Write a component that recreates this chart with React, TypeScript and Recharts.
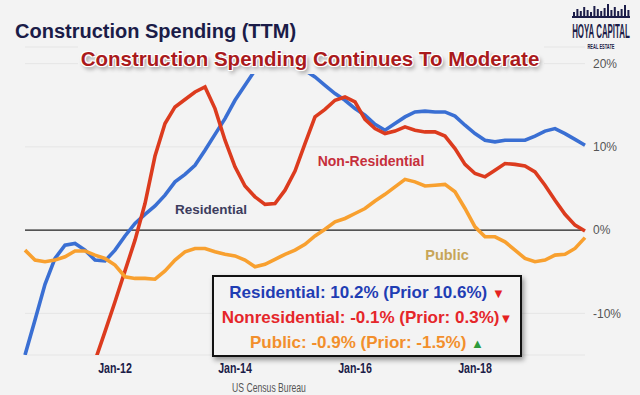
import { CartesianGrid, Line, LineChart, ReferenceLine, XAxis, YAxis } from "recharts";

const BG = "#f3f3f3";
const NAVY = "#1b1c48";

// two-month steps
const months = [
  "Jul-10", "Sep-10", "Nov-10", "Jan-11", "Mar-11", "May-11", "Jul-11", "Sep-11", "Nov-11",
  "Jan-12", "Mar-12", "May-12", "Jul-12", "Sep-12", "Nov-12",
  "Jan-13", "Mar-13", "May-13", "Jul-13", "Sep-13", "Nov-13",
  "Jan-14", "Mar-14", "May-14", "Jul-14", "Sep-14", "Nov-14",
  "Jan-15", "Mar-15", "May-15", "Jul-15", "Sep-15", "Nov-15",
  "Jan-16", "Mar-16", "May-16", "Jul-16", "Sep-16", "Nov-16",
  "Jan-17", "Mar-17", "May-17", "Jul-17", "Sep-17", "Nov-17",
  "Jan-18", "Mar-18", "May-18", "Jul-18", "Sep-18", "Nov-18",
  "Jan-19", "Mar-19", "May-19", "Jul-19", "Sep-19", "Nov-19",
];

const tickLabels = ["Jan-12", "Jan-14", "Jan-16", "Jan-18"];
const yTicks = [-10, 0, 10, 20];

const residential = [
  -15.0, -10.8, -6.5, -3.4, -1.8, -1.6, -2.4, -3.6, -3.7, -2.4,
  -0.7, 0.8, 1.9, 2.9, 4.2, 5.8, 6.7, 7.8, 9.6, 11.5,
  13.4, 15.6, 17.4, 19.2, 20.6, 21.4, 21.4, 20.4, 19.2, 18.4,
  17.4, 16.4, 15.6, 14.6, 13.8, 12.7, 12.0, 12.8, 13.6, 14.2,
  14.3, 14.2, 14.2, 13.7, 12.6, 11.6, 10.8, 10.6, 10.8, 10.8,
  10.8, 11.3, 11.9, 12.2, 11.6, 10.9, 10.2,
];

const nonresidential = [
  null, null, null, null, null, null, null,
  -15.7, -12.2, -8.6, -4.9, -1.2, 3.2, 8.9, 12.8, 14.8, 15.7,
  16.6, 17.2, 14.6, 10.8, 7.6, 5.3, 4.0, 3.1, 3.2, 4.8,
  7.1, 10.4, 13.6, 14.5, 15.6, 16.0, 15.4, 13.3, 12.2, 11.6,
  11.9, 12.4, 12.0, 11.8, 11.8, 11.3, 9.8, 7.9, 6.8, 6.4,
  7.2, 8.0, 7.9, 7.7, 7.0, 5.4, 3.6, 1.9, 0.6, -0.1,
];

const publicSpend = [
  -2.4, -3.6, -3.8, -3.6, -3.2, -2.5, -2.5, -3.0, -3.4, -4.2,
  -5.6, -5.8, -5.8, -5.9, -4.9, -3.6, -2.6, -2.2, -2.2, -2.6,
  -2.9, -3.1, -3.6, -4.4, -4.1, -3.5, -2.9, -2.4, -1.7, -0.7,
  0.1, 1.0, 1.4, 2.0, 2.6, 3.5, 4.3, 5.2, 6.1, 5.8,
  5.3, 5.4, 5.5, 4.6, 2.6, 0.4, -0.8, -0.8, -1.4, -2.4,
  -3.4, -3.8, -3.6, -3.0, -2.9, -2.2, -0.9,
];

const data = months.map((month, i) => ({
  month,
  residential: residential[i],
  nonresidential: nonresidential[i],
  public: publicSpend[i],
}));

function MonthTick(props: any) {
  const { x, y, payload } = props;
  return (
    <text
      transform={`translate(${x},${y}) scale(0.76,1)`}
      dy="0.71em"
      textAnchor="middle"
      fontSize={14}
      fontWeight="bold"
      fill={NAVY}
    >
      {payload.value}
    </text>
  );
}

const skyline = [4, 7, 5, 9, 6, 4, 10, 7, 5, 8, 12, 6, 9, 5, 7, 11, 6];

export default function App() {
  return (
    <div
      style={{
        position: "absolute",
        left: 0,
        top: 0,
        width: 640,
        height: 395,
        background: BG,
        overflow: "hidden",
        fontFamily: "'Liberation Sans', Arial, sans-serif",
      }}
    >
      <LineChart width={640} height={395} data={data} margin={{ top: 47, right: 0, bottom: 10, left: 25 }}>
        <CartesianGrid vertical={false} stroke="#e5e5e5" />
        <XAxis
          dataKey="month"
          scale="point"
          padding={{ left: 0, right: 0 }}
          ticks={tickLabels}
          interval={0}
          axisLine={false}
          tickLine={false}
          height={30}
          tick={<MonthTick />}
        />
        <YAxis
          orientation="right"
          width={55}
          domain={[-15, 22]}
          ticks={yTicks}
          allowDataOverflow
          axisLine={false}
          tickLine={false}
          tickFormatter={(v) => `${v}%`}
          tick={{ fill: "#555", fontSize: 12 }}
        />
        <ReferenceLine y={0} stroke="#222" strokeWidth={1.2} />
        <Line dataKey="residential" stroke="#3a6fd3" strokeWidth={3.6} dot={false} isAnimationActive={false} />
        <Line dataKey="nonresidential" stroke="#dc3b1e" strokeWidth={3.6} dot={false} isAnimationActive={false} />
        <Line dataKey="public" stroke="#f8a02f" strokeWidth={3.6} dot={false} isAnimationActive={false} />
      </LineChart>

      <svg width={640} height={395} style={{ position: "absolute", left: 0, top: 0, pointerEvents: "none" }}>
        <text x={211} y={209} textAnchor="middle" dominantBaseline="central" fontSize={13.5} fontWeight="bold" fill="#3d3d5e">
          Residential
        </text>
        <text x={371} y={161} textAnchor="middle" dominantBaseline="central" fontSize={14} fontWeight="bold" fill="#c62f3b">
          Non-Residential
        </text>
        <text x={447} y={255} textAnchor="middle" dominantBaseline="central" fontSize={14.5} fontWeight="bold" fill="#c7a558">
          Public
        </text>
        <text transform="translate(269,392) scale(0.72,1)" textAnchor="middle" fontSize={12} fill="#555">
          US Census Bureau
        </text>

        {/* logo */}
        <rect x={572} y={16} width={58} height={2} fill={NAVY} />
        {skyline.map((h, i) => (
          <rect key={i} x={573 + i * 3.4} y={16 - h} width={2} height={h} fill={NAVY} />
        ))}
        <text transform="translate(601,38) scale(0.44,1.1)" textAnchor="middle" fontSize={18} fontWeight="bold" fill={NAVY}>
          HOYA CAPITAL
        </text>
        <text transform="translate(601,49) scale(0.5,1)" textAnchor="middle" fontSize={8} fontWeight="bold" fill={NAVY}>
          REAL ESTATE
        </text>
      </svg>

      <div style={{ position: "absolute", left: 15, top: 21, fontSize: 20, lineHeight: "20px", fontWeight: "bold", color: NAVY, whiteSpace: "nowrap" }}>
        Construction Spending (TTM)
      </div>

      <div style={{ position: "absolute", left: 78, top: 46, width: 466, height: 28, background: BG }} />
      <div
        style={{
          position: "absolute",
          left: 0,
          width: 620,
          top: 48,
          textAlign: "center",
          fontSize: 20.5,
          lineHeight: "21px",
          fontWeight: "bold",
          color: "#aa1a1c",
          whiteSpace: "nowrap",
          textShadow:
            "1px 1px 0 #fff, -1px -1px 0 #fff, 1px -1px 0 #fff, -1px 1px 0 #fff, 0 0 2px #fff, 2px 3px 4px rgba(0,0,0,0.45)",
        }}
      >
        Construction Spending Continues To Moderate
      </div>

      <div
        style={{
          position: "absolute",
          left: 212,
          top: 275,
          width: 310,
          height: 82,
          boxSizing: "border-box",
          border: "2px solid #111",
          background: BG,
          boxShadow: "2px 3px 5px rgba(0,0,0,0.4)",
          paddingTop: 4,
          textAlign: "center",
          fontSize: 17,
          lineHeight: "24px",
          fontWeight: "bold",
          whiteSpace: "nowrap",
        }}
      >
        <div style={{ color: "#1f3db3" }}>
          Residential: 10.2% (Prior 10.6%) <span style={{ color: "#e5221f", fontSize: 13 }}>▼</span>
        </div>
        <div style={{ color: "#e5262a" }}>
          Nonresidential: -0.1% (Prior: 0.3%)<span style={{ color: "#e5221f", fontSize: 13 }}>▼</span>
        </div>
        <div style={{ color: "#f28f2c" }}>
          Public: -0.9% (Prior: -1.5%) <span style={{ color: "#2e9b3c", fontSize: 13 }}>▲</span>
        </div>
      </div>
    </div>
  );
}
